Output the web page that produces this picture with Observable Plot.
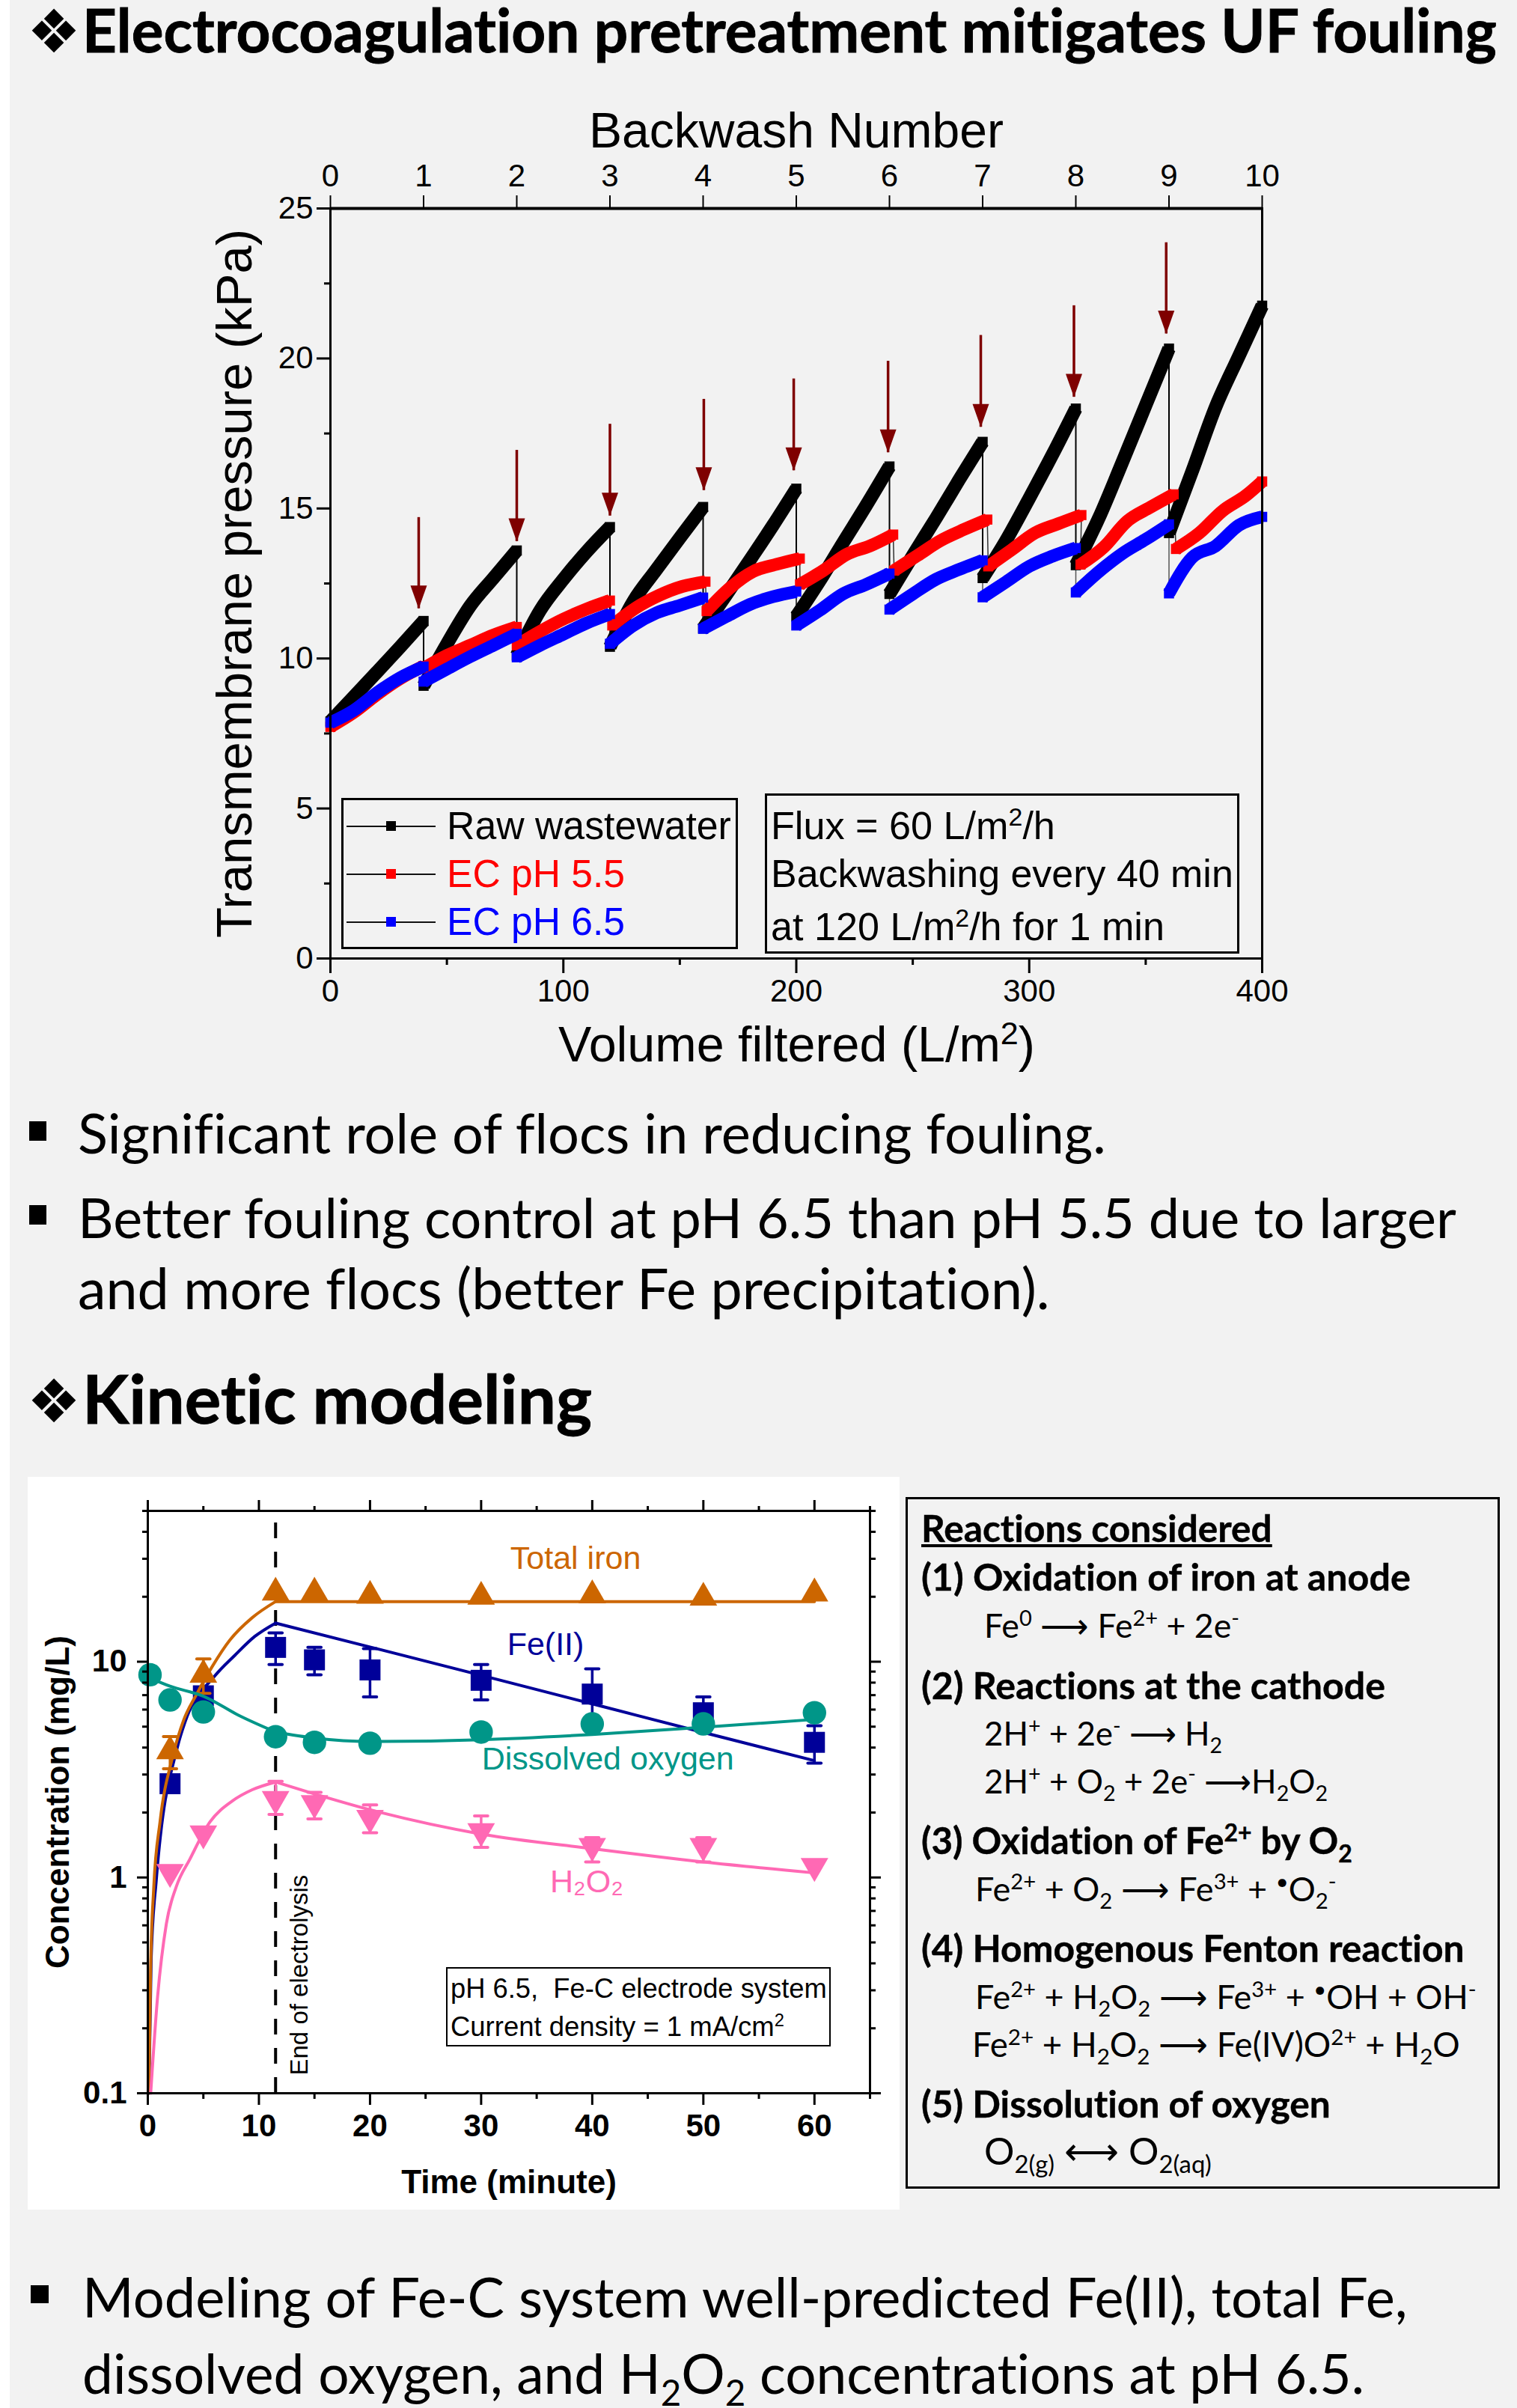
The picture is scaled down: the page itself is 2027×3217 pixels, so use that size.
<!DOCTYPE html>
<html><head><meta charset="utf-8">
<script src="https://cdn.jsdelivr.net/npm/d3@7"></script>
<script src="https://cdn.jsdelivr.net/npm/@observablehq/plot@0.6"></script>
<style>
html,body{margin:0;padding:0;background:#fff}
#page{position:relative;width:2027px;height:3217px;overflow:hidden;font-variant-ligatures:none}
#bg{position:absolute;left:13px;top:0;width:2014px;height:3217px;background:#f2f2f2}
#panel{position:absolute;left:37px;top:1973px;width:1165px;height:979px;background:#fff}
sup,sub{line-height:0;font-size:.65em}
svg{position:absolute;overflow:visible}
</style></head>
<body><div id="page"><div id="bg"></div><div id="panel"></div></div>
<script>
// ---------- chart 1 data ----------
const steps = [0, 10, 20, 30, 40];
const rawSegments = [
  [7.9, 8.72, 9.55, 10.39, 11.25],
  [9.09, 10.48, 11.75, 12.68, 13.6],
  [10.1, 11.6, 12.64, 13.56, 14.38],
  [10.39, 11.9, 12.97, 14.02, 15.05],
  [11.0, 12.13, 13.27, 14.44, 15.66],
  [11.4, 12.58, 13.85, 15.1, 16.4],
  [12.15, 13.43, 14.68, 15.97, 17.22],
  [12.68, 13.93, 15.34, 16.8, 18.33],
  [13.11, 14.7, 16.55, 18.44, 20.33],
  [14.18, 16.25, 18.38, 20.08, 21.76]
];
const ph55Segments = [
  [7.72, 8.2, 8.8, 9.33, 9.75],
  [9.67, 10.1, 10.44, 10.78, 11.05],
  [10.44, 10.9, 11.31, 11.65, 11.93],
  [11.1, 11.68, 12.1, 12.4, 12.56],
  [11.58, 12.35, 12.9, 13.14, 13.33],
  [12.47, 12.93, 13.47, 13.75, 14.13],
  [12.93, 13.43, 13.93, 14.3, 14.63],
  [13.07, 13.62, 14.18, 14.49, 14.78],
  [13.13, 13.71, 14.57, 15.04, 15.47],
  [13.65, 14.18, 14.92, 15.43, 15.9]
];
const ph55Shift = [0, 0, 0, 1, 1.5, 1.6, 2, 2.4, 2, 3];
const ph65Segments = [
  [7.86, 8.27, 8.86, 9.36, 9.73],
  [9.23, 9.65, 10.06, 10.44, 10.82],
  [10.04, 10.44, 10.81, 11.18, 11.48],
  [10.49, 11.1, 11.52, 11.77, 12.03],
  [10.99, 11.4, 11.8, 12.06, 12.23],
  [11.1, 11.6, 12.15, 12.47, 12.83],
  [11.63, 12.15, 12.64, 12.97, 13.27],
  [12.04, 12.55, 13.07, 13.41, 13.68],
  [12.2, 12.9, 13.5, 13.97, 14.47],
  [12.17, 13.37, 13.75, 14.44, 14.72]
];
const arrowVolume = [37.9, 80, 120, 160.3, 198.9, 239.4, 279.2, 319.2, 358.8];
const arrowTop = [14.7, 16.94, 17.81, 18.64, 19.32, 19.91, 20.77, 21.76, 23.86];
const arrowTip = [11.66, 13.9, 14.75, 15.6, 16.26, 16.86, 17.71, 18.71, 20.82];
const volumeTicks = [0, 100, 200, 300, 400];
const volumeMinor = [50, 150, 250, 350];
const backwashNumbers = [0, 1, 2, 3, 4, 5, 6, 7, 8, 9, 10];
const pressureTicks = [0, 5, 10, 15, 20, 25];
const pressureMinor = [2.5, 7.5, 12.5, 17.5, 22.5];

// ---------- chart 2 data ----------
const ironT = [2, 5, 11.5, 15, 20, 30, 40, 50, 60];
const ironC = [3.85, 8.7, 20.9, 20.9, 20.2, 20, 20.3, 19.8, 20.7];
const ironErrT = [2, 5];
const ironErrHi = [4.5, 10.3];
const ironErrLo = [3.19, 7.14];
const feT = [2, 5, 11.5, 15, 20, 30, 40, 50, 60];
const feC = [2.72, 6.95, 11.65, 10.2, 9.16, 8.2, 7.08, 5.8, 4.23];
const feErrT = [11.5, 15, 20, 30, 40, 50, 60];
const feErrHi = [13.6, 11.65, 11.5, 9.7, 9.27, 6.87, 5.05];
const feErrLo = [9.7, 8.7, 6.87, 6.65, 5.03, 5.2, 3.39];
const doT = [0.2, 2, 5, 11.5, 15, 20, 30, 40, 50, 60];
const doC = [8.7, 6.65, 5.85, 4.49, 4.23, 4.19, 4.72, 5.15, 5.15, 5.8];
const hpT = [2, 5, 11.5, 15, 20, 30, 40, 50, 60];
const hpC = [1.06, 1.6, 2.31, 2.21, 1.89, 1.64, 1.4, 1.4, 1.13];
const hpErrT = [11.5, 15, 20, 30, 40, 50];
const hpErrHi = [2.79, 2.48, 2.17, 1.93, 1.53, 1.53];
const hpErrLo = [1.96, 1.87, 1.61, 1.38, 1.18, 1.18];
const ironModelT = [0.1, 0.25, 0.54, 1.1, 2.22, 3.23, 4.35, 5.8, 7.39, 9.4, 11.5, 12.5, 60];
const ironModelC = [0.1, 0.37, 0.906, 1.81, 3.6, 5.37, 7.0, 9.5, 12.6, 16, 19, 19, 19];
const feModelT = [0.1, 0.3, 0.76, 2.67, 3.35, 6.04, 7.83, 9.63, 11.5, 20, 30, 40, 50, 60];
const feModelC = [0.1, 0.42, 0.97, 4.03, 5.25, 8.6, 10.7, 13.1, 15.1, 11.7, 8.65, 6.38, 4.7, 3.48];
const doModelT = [0.2, 2, 5, 8.3, 11.5, 15, 20, 30, 40, 50, 60];
const doModelC = [8.4, 7.7, 6.92, 5.6, 4.72, 4.43, 4.27, 4.35, 4.6, 4.97, 5.4];
const hpModelT = [0.26, 0.88, 1.67, 2.56, 3.8, 5.6, 7.6, 9.4, 11.5, 15, 20, 30, 40, 50, 60];
const hpModelC = [0.1, 0.28, 0.61, 0.906, 1.22, 1.81, 2.26, 2.55, 2.77, 2.44, 2.06, 1.59, 1.36, 1.18, 1.05];
const timeTicks = [0, 10, 20, 30, 40, 50, 60];
const timeMinor = [5, 15, 25, 35, 45, 55, 65];
const concTicks = [0.1, 1, 10];
const concMinor = [0.2, 0.3, 0.4, 0.5, 0.6, 0.7, 0.8, 0.9, 2, 3, 4, 5, 6, 7, 8, 9, 20, 30, 40, 50];
const endOfElectrolysis = 11.5;

const seriesLabels = ["Total iron", "Fe(II)", "Dissolved oxygen", "H₂O₂"];
const labelT = [38.5, 35.8, 41.4, 39.5];
const labelC = [30, 12, 3.52, 0.955];
const labelColors = ["#cc6600", "#000099", "#009688", "#ff69b4"];

// ---------- helpers ----------
const ARIAL = '"Liberation Sans", Arial, sans-serif';
const LATO = 'Lato, Carlito, sans-serif';
const page = document.getElementById("page");
function zip(xs, ys) { return xs.map((x, i) => ({x, y: ys[i]})); }
function zipErr(xs, hi, lo) { return xs.map((x, i) => ({x, hi: hi[i], lo: lo[i]})); }
function modelRows(ts, cs) {
  const pts = zip(ts, cs);
  return [
    ...pts.filter(d => d.x <= endOfElectrolysis).map(d => ({...d, part: 0})),
    ...pts.filter(d => d.x >= endOfElectrolysis).map(d => ({...d, part: 1}))
  ];
}
function segmentRows(segments, shift) {
  return segments.flatMap((vals, s) => vals.map((y, i) => ({
    x: Math.min(400, s * 40 + steps[i] + (shift ? shift[s] : 0)), y, seg: s, end: i === 0 || i === 4
  })));
}
function put(x, base, html, o = {}) {
  const d = document.createElement("div");
  const size = o.size || 40;
  const strut = Math.min(base, 60);
  d.style.cssText = `position:absolute;left:${x}px;top:${base - strut}px;white-space:nowrap;line-height:0;` +
    `font-family:${o.font || LATO};font-size:${size}px;font-weight:${o.weight || 400};color:${o.color || "#000"};` + (o.css || "");
  d.innerHTML = `<span style="display:inline-block;height:${strut}px;width:0"></span><span class="t">${html}</span>`;
  page.appendChild(d);
  if (o.w) {
    const cur = d.querySelector(".t").getBoundingClientRect().width;
    d.style.fontSize = (size * o.w / cur) + "px";
  }
  return d;
}
function box(x, y, w, h, css) {
  const d = document.createElement("div");
  d.style.cssText = `position:absolute;left:${x}px;top:${y}px;width:${w}px;height:${h}px;box-sizing:border-box;${css}`;
  page.appendChild(d);
  return d;
}
const arrowHead = {draw(ctx, size) { const s = Math.sqrt(size); ctx.moveTo(-s / 2, -s * 1.41); ctx.lineTo(s / 2, -s * 1.41); ctx.lineTo(0, 0); ctx.closePath(); }};
const cap = {draw(ctx, size) { const s = Math.sqrt(size); ctx.moveTo(-s / 2, 0); ctx.lineTo(s / 2, 0); }};
const squareR = side => side / Math.sqrt(Math.PI);
const NOTEXT = {fill: "none", stroke: "#000", label: null};

// ---------- chart 1 ----------
function thick(rows, color, width) {
  return [
    Plot.line(rows, {x: "x", y: "y", z: "seg", stroke: color, strokeWidth: width, strokeLinejoin: "round", strokeLinecap: "butt", curve: "monotone-x"}),
    Plot.dot(rows.filter(d => d.end), {x: "x", y: "y", symbol: "square", r: squareR(13.5), fill: color, stroke: "none"})
  ];
}
const rawRows = segmentRows(rawSegments);
const ph55Rows = segmentRows(ph55Segments, ph55Shift);
const ph65Rows = segmentRows(ph65Segments);
const arrowRows = arrowVolume.map((x, i) => ({x, top: arrowTop[i], tip: arrowTip[i]}));
const chart1 = Plot.plot({
  width: 2014, height: 1320, marginLeft: 428, marginRight: 341, marginTop: 148, marginBottom: 170,
  x: {domain: [0, 400]}, y: {domain: [0, 25]},
  style: {background: "transparent", fontFamily: ARIAL, color: "#000"},
  marks: [
    Plot.line(rawRows, {x: "x", y: "y", stroke: "#000", strokeWidth: 2}),
    Plot.line(ph55Rows, {x: "x", y: "y", stroke: "#333", strokeWidth: 1.5}),
    Plot.line(ph65Rows, {x: "x", y: "y", stroke: "#555", strokeWidth: 1.5}),
    ...thick(rawRows, "#000", 18),
    ...thick(ph55Rows, "#ff0000", 17),
    ...thick(ph65Rows, "#0000ff", 17),
    Plot.ruleX(arrowRows, {x: "x", y1: "top", y2: "tip", stroke: "#7f0000", strokeWidth: 3.5}),
    Plot.dot(arrowRows, {x: "x", y: "tip", symbol: arrowHead, r: 12.4, fill: "#7f0000", stroke: "none"}),
    Plot.frame({stroke: "#000", strokeWidth: 3}),
    Plot.ruleY([25], {stroke: "#000", strokeWidth: 4}),
    Plot.ruleY([0], {stroke: "#000", strokeWidth: 3}),
    Plot.axisX({anchor: "bottom", ticks: volumeTicks, tickSize: 20, tickPadding: 8, strokeWidth: 3, fontSize: 42, label: null}),
    Plot.axisX({anchor: "bottom", ticks: volumeMinor, tickSize: 9, strokeWidth: 3, ...NOTEXT}),
    Plot.axisX({anchor: "top", ticks: backwashNumbers.map(n => n * 40), tickSize: 18, tickPadding: 12, strokeWidth: 2, fontSize: 42, tickFormat: d => String(d / 40), label: null}),
    Plot.axisY({anchor: "left", ticks: pressureTicks, tickSize: 18, tickPadding: 5, strokeWidth: 3, fontSize: 42, label: null}),
    Plot.axisY({anchor: "left", ticks: pressureMinor, tickSize: 8, strokeWidth: 3, ...NOTEXT}),
    Plot.text(["Backwash Number"], {frameAnchor: "top", lineAnchor: "bottom", dy: -82, fontSize: 66}),
    Plot.text(["Transmembrane pressure (kPa)"], {frameAnchor: "left", textAnchor: "middle", lineAnchor: "bottom", rotate: -90, dx: -106, fontSize: 67})
  ]
});
chart1.style.left = "13px"; chart1.style.top = "130px";
page.appendChild(chart1);

// ---------- chart 2 ----------
function markers(rows, symbol, r, color, rotate) {
  return Plot.dot(rows, {x: "x", y: "y", symbol, r, fill: color, stroke: "none", rotate: rotate || 0});
}
function model(ts, cs, color) {
  return Plot.line(modelRows(ts, cs), {x: "x", y: "y", z: "part", stroke: color, strokeWidth: 4, curve: "monotone-x"});
}
function errs(rows, color) {
  return [
    Plot.ruleX(rows, {x: "x", y1: "lo", y2: "hi", stroke: color, strokeWidth: 3.5}),
    Plot.dot(rows, {x: "x", y: "hi", symbol: cap, r: 10, fill: "none", stroke: color, strokeWidth: 4, strokeLinecap: "round"}),
    Plot.dot(rows, {x: "x", y: "lo", symbol: cap, r: 10, fill: "none", stroke: color, strokeWidth: 4, strokeLinecap: "round"})
  ];
}
const [cIron, cFe, cDo, cHp] = labelColors;
const chart2 = Plot.plot({
  width: 1165, height: 979, marginLeft: 160, marginRight: 40, marginTop: 45, marginBottom: 156,
  x: {domain: [0, 65]}, y: {type: "log", domain: [0.1, 50]},
  style: {background: "#fff", fontFamily: ARIAL, color: "#000"},
  marks: [
    Plot.ruleX([endOfElectrolysis], {y1: 0.1, y2: 46, stroke: "#000", strokeWidth: 4, strokeDasharray: "21,18"}),
    model(feModelT, feModelC, cFe),
    ...errs(zipErr(feErrT, feErrHi, feErrLo), cFe),
    markers(zip(feT, feC), "square", squareR(28), cFe),
    model(ironModelT, ironModelC, cIron),
    ...errs(zipErr(ironErrT, ironErrHi, ironErrLo), cIron),
    markers(zip(ironT, ironC), "triangle", 13.7, cIron),
    model(doModelT, doModelC, cDo),
    markers(zip(doT, doC), "circle", 15.7, cDo),
    model(hpModelT, hpModelC, cHp),
    ...errs(zipErr(hpErrT, hpErrHi, hpErrLo), cHp),
    markers(zip(hpT, hpC), "triangle", 13.7, cHp, 180),
    Plot.frame({stroke: "#000", strokeWidth: 3}),
    Plot.axisX({anchor: "bottom", ticks: timeTicks, tickSize: 16, tickPadding: 12, strokeWidth: 3, fontSize: 42, fontWeight: "bold", label: null}),
    Plot.axisX({anchor: "bottom", ticks: timeMinor, tickSize: 8, strokeWidth: 3, ...NOTEXT}),
    Plot.axisX({anchor: "top", ticks: timeTicks, tickSize: 15, strokeWidth: 3, ...NOTEXT}),
    Plot.axisX({anchor: "top", ticks: timeMinor, tickSize: 7, strokeWidth: 3, ...NOTEXT}),
    Plot.axisY({anchor: "left", ticks: concTicks, tickSize: 14, tickPadding: 14, strokeWidth: 3, fontSize: 42, fontWeight: "bold", tickFormat: d => String(d), label: null}),
    Plot.axisY({anchor: "left", ticks: concMinor, tickSize: 7, strokeWidth: 3, ...NOTEXT}),
    Plot.axisY({anchor: "right", ticks: concTicks, tickSize: 14, strokeWidth: 3, ...NOTEXT}),
    Plot.axisY({anchor: "right", ticks: concMinor, tickSize: 7, strokeWidth: 3, ...NOTEXT}),
    Plot.text(seriesLabels, {x: (d, i) => labelT[i], y: (d, i) => labelC[i], fill: (d, i) => labelColors[i], fontSize: 43}),
    Plot.text(["End of electrolysis"], {x: [13.7], y: [0.353], rotate: -90, fontSize: 33}),
    Plot.text(["Time (minute)"], {frameAnchor: "bottom", lineAnchor: "bottom", dy: 133, fontSize: 44, fontWeight: "bold"}),
    Plot.text(["Concentration (mg/L)"], {frameAnchor: "left", textAnchor: "middle", lineAnchor: "bottom", rotate: -90, dx: -106, fontSize: 44, fontWeight: "bold"})
  ]
});
chart2.style.left = "37px"; chart2.style.top = "1973px";
page.appendChild(chart2);

// ---------- text around the charts ----------
const DIAMOND = 'DejaVu Sans, sans-serif';
const HEAVY = "-webkit-text-stroke:0.9px #000;";
put(36, 70, "❖", {font: DIAMOND, size: 70, w: 72});
put(110, 70, "Electrocoagulation pretreatment mitigates UF fouling", {size: 72, weight: 700, w: 1890, css: HEAVY});
put(746, 1418, "Volume filtered (L/m<sup>2</sup>)", {font: ARIAL, size: 65, w: 637});

// legend
box(456, 1066, 530, 202, "border:3px solid #000");
const legendNames = ["Raw wastewater", "EC pH 5.5", "EC pH 6.5"];
const legendColors = ["#000", "#ff0000", "#0000ff"];
legendNames.forEach((name, i) => {
  const base = 1121 + i * 64;
  box(463, base - 18.5, 119, 2, "background:#111");
  box(516, base - 24, 13, 13, `background:${legendColors[i]}`);
  put(597, base, name, {font: ARIAL, size: 51, color: legendColors[i], w: [380, 238, 238][i]});
});
// flux note
box(1022, 1060, 634, 214, "border:3px solid #000");
put(1030, 1121, "Flux = 60 L/m<sup>2</sup>/h", {font: ARIAL, size: 51, w: 380});
put(1030, 1185, "Backwashing every 40 min", {font: ARIAL, size: 51, w: 618});
put(1030, 1256, "at 120 L/m<sup>2</sup>/h for 1 min", {font: ARIAL, size: 51, w: 526});

// bullets
const bullet = (x, y, w, h) => box(x, y, w, h, "background:#000");
bullet(39, 1498, 23, 26);
put(104, 1541, "Significant role of flocs in reducing fouling.", {size: 70, w: 1374});
bullet(39, 1610, 23, 26);
put(104, 1654, "Better fouling control at pH 6.5 than pH 5.5 due to larger", {size: 70, w: 1842});
put(104, 1749, "and more flocs (better Fe precipitation).", {size: 70, w: 1299});
put(36, 1900, "❖", {font: DIAMOND, size: 70, w: 72});
put(110, 1902, "Kinetic modeling", {size: 72, weight: 700, w: 681, css: HEAVY});

// chart 2 note
box(596, 2628, 514, 106, "border:2px solid #000;background:#fff");
put(602, 2669, "pH 6.5,&nbsp; Fe-C electrode system", {font: ARIAL, size: 36, w: 503});
put(602, 2720, "Current density = 1 mA/cm<sup>2</sup>", {font: ARIAL, size: 36, w: 446});

// reactions
box(1210, 2000, 794, 924, "border:3px solid #000");
const reactions = [
  [1231, 2060, "<u>Reactions considered</u>", 469, 700],
  [1231, 2125, "(1) Oxidation of iron at anode", 654, 700],
  [1315, 2188, "Fe<sup>0</sup> ⟶ Fe<sup>2+</sup> + 2e<sup>-</sup>", 340, 400],
  [1231, 2270, "(2) Reactions at the cathode", 620, 700],
  [1315, 2332, "2H<sup>+</sup> + 2e<sup>-</sup> ⟶ H<sub>2</sub>", 318, 400],
  [1315, 2396, "2H<sup>+</sup> + O<sub>2</sub> + 2e<sup>-</sup> ⟶H<sub>2</sub>O<sub>2</sub>", 459, 400],
  [1231, 2477, "(3) Oxidation of Fe<sup>2+</sup> by O<sub>2</sub>", 576, 700],
  [1303, 2540, "Fe<sup>2+</sup> + O<sub>2</sub> ⟶ Fe<sup>3+</sup> + <sup>•</sup>O<sub>2</sub><sup>-</sup>", 482, 400],
  [1231, 2621, "(4) Homogenous Fenton reaction", 726, 700],
  [1303, 2684, "Fe<sup>2+</sup> + H<sub>2</sub>O<sub>2</sub> ⟶ Fe<sup>3+</sup> + <sup>•</sup>OH + OH<sup>-</sup>", 669, 400],
  [1299, 2748, "Fe<sup>2+</sup> + H<sub>2</sub>O<sub>2</sub> ⟶ Fe(IV)O<sup>2+</sup> + H<sub>2</sub>O", 651, 400],
  [1231, 2829, "(5) Dissolution of oxygen", 547, 700],
  [1315, 2892, "O<sub>2(g)</sub> ⟷ O<sub>2(aq)</sub>", 303, 400]
];
reactions.forEach(([x, y, html, w, weight]) => put(x, y, html, {size: 42, w, weight, css: weight === 700 ? "-webkit-text-stroke:0.4px #000;" : ""}));

// bottom bullet
bullet(41, 3053, 24, 24);
put(110, 3096, "Modeling of Fe-C system well-predicted Fe(II), total Fe,", {size: 70, w: 1771});
put(110, 3198, "dissolved oxygen, and H<sub>2</sub>O<sub>2</sub> concentrations at pH 6.5.", {size: 70, w: 1713});
</script>
</body></html>
